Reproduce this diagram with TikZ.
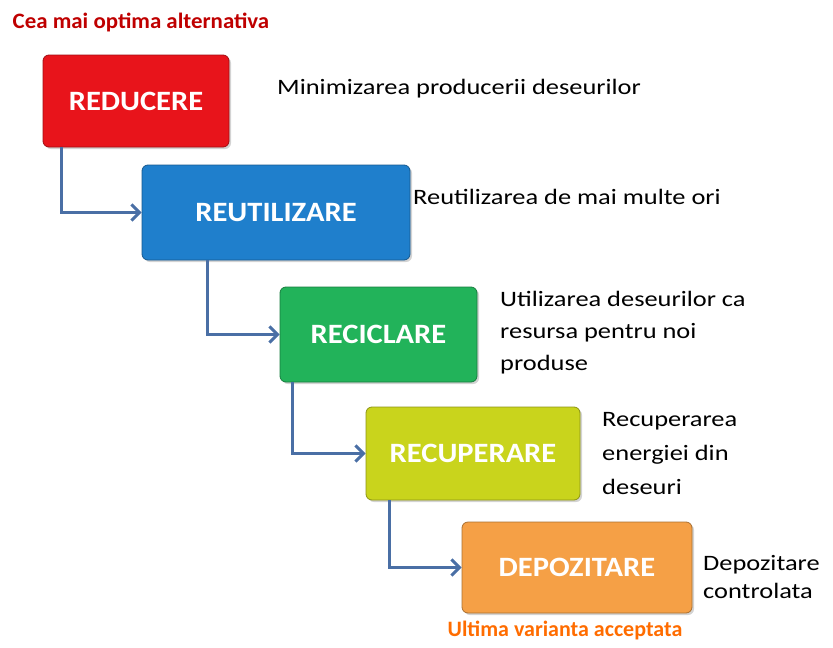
\documentclass[tikz,border=0pt]{standalone}
\usepackage{fontspec}
\setmainfont{Carlito}
\usetikzlibrary{positioning,arrows.meta,shadows}
\definecolor{cred}{HTML}{E8141B}
\definecolor{cblue}{HTML}{1F7FCC}
\definecolor{cgreen}{HTML}{22B35A}
\definecolor{cyellow}{HTML}{C9D41C}
\definecolor{corange}{HTML}{F5A046}
\definecolor{cflow}{HTML}{4A6FA5}
\newcommand{\stagetext}[1]{\scalebox{1.09}[1]{#1}}
\tikzset{
  stage/.style={draw=#1!70!black,fill=#1,rounded corners=6pt,line width=0.8pt,
    drop shadow={shadow xshift=2pt,shadow yshift=-2pt,opacity=0.35},
    text=white,font=\fontsize{28}{30}\selectfont\bfseries},
  note/.style={anchor=west,align=left,inner sep=0pt,xscale=1.2,transform shape,
    font=\fontsize{22}{32}\selectfont},
  headline/.style={font=\fontsize{22}{24}\selectfont\bfseries},
  flow/.style={draw=cflow,line width=3.5pt,-{Straight Barb[length=8pt,width=16pt,line width=3pt]}}
}
\begin{document}
\begin{tikzpicture}[x=1pt,y=-1pt]
  \useasboundingbox (0,0) rectangle (833,648);
  \node[headline,text=red!75!black,xscale=1.04,transform shape] (best) at (141,22) {Cea mai optima alternativa};
  \node[stage=cred,minimum width=186pt,minimum height=92pt] (red) at (136,101) {\stagetext{REDUCERE}};
  \node[stage=cblue,minimum width=268pt,minimum height=95pt] (blue) at (276,212.5) {\stagetext{REUTILIZARE}};
  \node[stage=cgreen,minimum width=197pt,minimum height=95pt] (green) at (378.5,334.5) {\stagetext{RECICLARE}};
  \node[stage=cyellow,minimum width=214pt,minimum height=93pt] (yellow) at (473,453.5) {\stagetext{RECUPERARE}};
  \node[stage=corange,minimum width=230pt,minimum height=91pt] (orange) at (577,567.5) {\stagetext{DEPOZITARE}};
  \node[note] (n1) at (277,89) {Minimizarea producerii deseurilor};
  \node[note] (n2) at (413,197) {Reutilizarea de mai multe ori};
  \node[note] (n3) at (500,333) {Utilizarea deseurilor ca\\resursa pentru noi\\produse};
  \node[note] (n4) at (602,454) {Recuperarea\\[2pt]energiei din\\[2pt]deseuri};
  \node[note] (n5) at (703,577) {Depozitare\\[-4pt]controlata};
  \node[headline,text=orange!85!red] (last) at (565,630) {Ultima varianta acceptata};
  \foreach \a/\b/\s in {red/blue/19,blue/green/66,green/yellow/13,yellow/orange/24}
    \draw[flow] ([xshift=\s]\a.south west) |- (\b);
\end{tikzpicture}
\end{document}
